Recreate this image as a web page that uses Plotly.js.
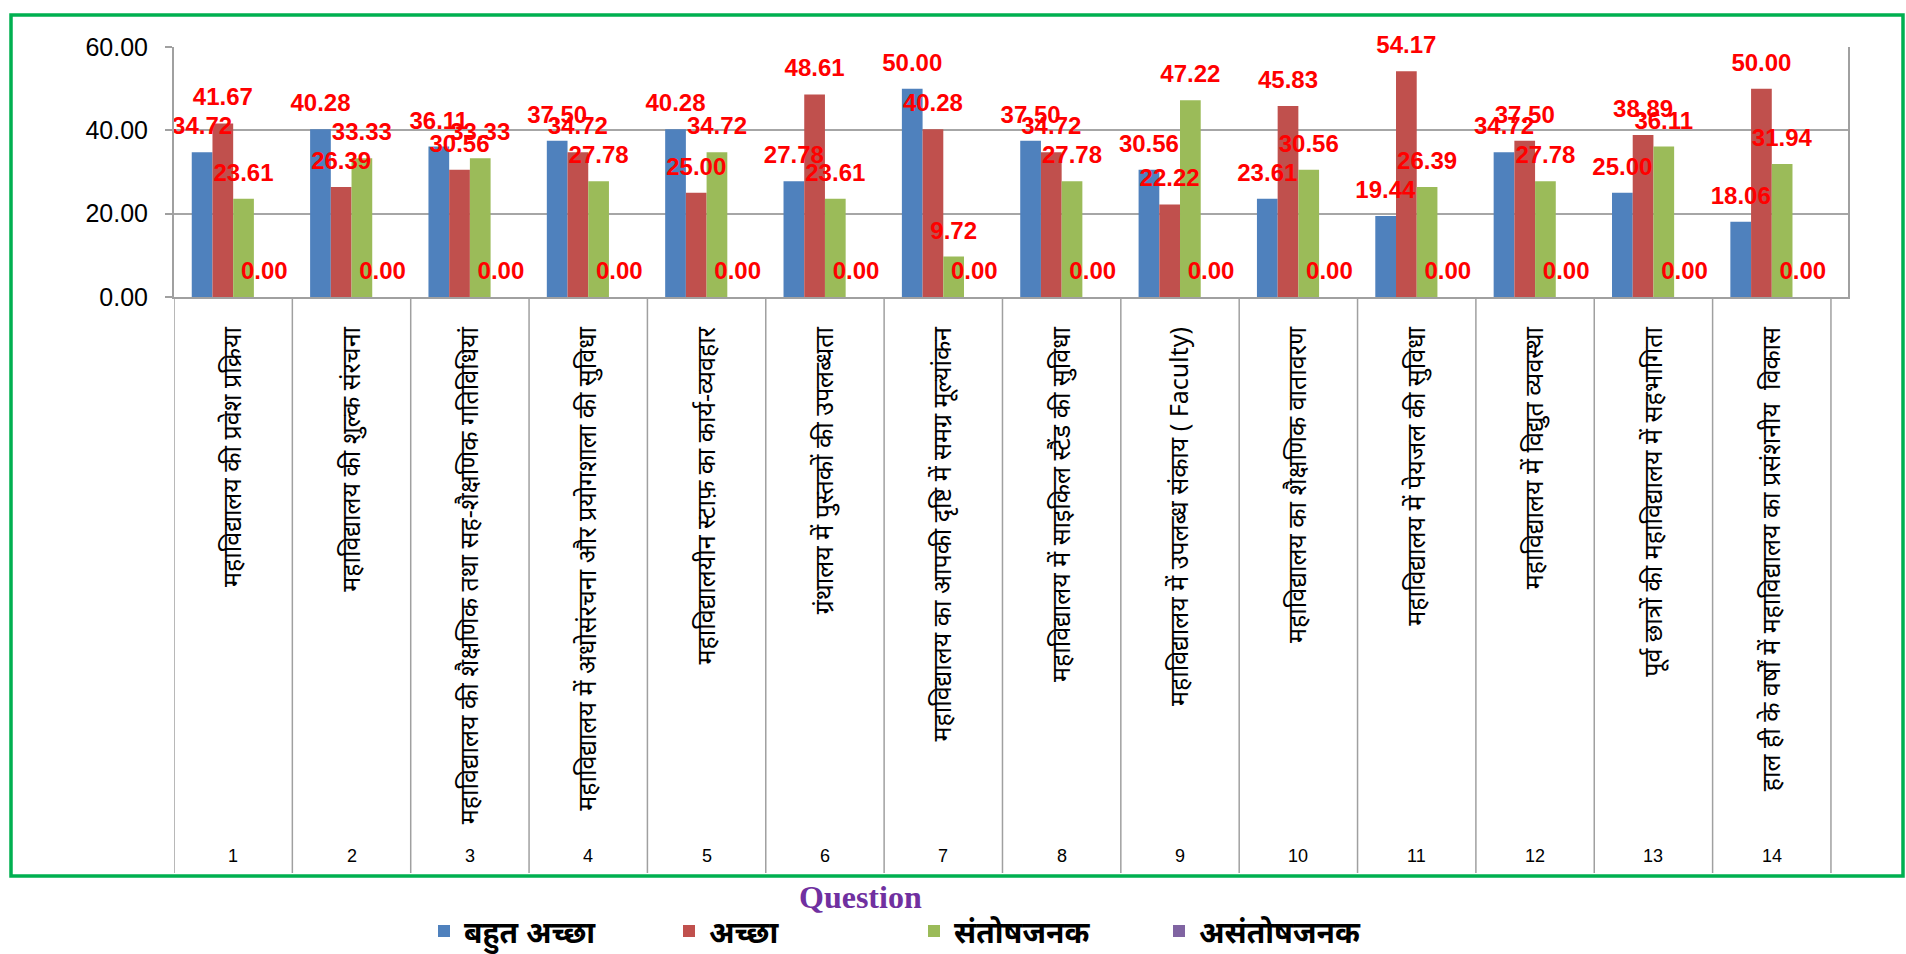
<!DOCTYPE html>
<html>
<head>
<meta charset="utf-8">
<script src="https://cdn.plot.ly/plotly-3.0.1.min.js"></script>
<style>html,body{margin:0;padding:0;background:#fff;}#chart{width:1906px;height:954px;}</style>
</head>
<body>
<div id="chart"></div>
<script>
const questionNumbers = ["1","2","3","4","5","6","7","8","9","10","11","12","13","14"];
const questionLabels = [
  "महाविद्यालय की प्रवेश प्रक्रिया",
  "महाविद्यालय की शुल्क संरचना",
  "महाविद्यालय की शैक्षणिक तथा सह-शैक्षणिक गतिविधियां",
  "महाविद्यालय में अधोसंरचना और प्रयोगशाला की सुविधा",
  "महाविद्यालयीन स्टाफ़ का कार्य-व्यवहार",
  "ग्रंथालय में पुस्तकों की उपलब्धता",
  "महाविद्यालय का आपकी दृष्टि में समग्र मूल्यांकन",
  "महाविद्यालय में साइकिल स्टैंड की सुविधा",
  "महाविद्यालय में उपलब्ध संकाय ( Faculty)",
  "महाविद्यालय का शैक्षणिक वातावरण",
  "महाविद्यालय में पेयजल की सुविधा",
  "महाविद्यालय में विद्युत व्यवस्था",
  "पूर्व छात्रों की महाविद्यालय में सहभागिता",
  "हाल ही के वर्षों में महाविद्यालय का प्रसंशनीय  विकास"
];
const seriesNames = ["बहुत अच्छा", "अच्छा", "संतोषजनक", "असंतोषजनक"];
const bahutAchha = [34.72, 40.28, 36.11, 37.50, 40.28, 27.78, 50.00, 37.50, 30.56, 23.61, 19.44, 34.72, 25.00, 18.06];
const achha      = [41.67, 26.39, 30.56, 34.72, 25.00, 48.61, 40.28, 34.72, 22.22, 45.83, 54.17, 37.50, 38.89, 50.00];
const santoshjanak = [23.61, 33.33, 33.33, 27.78, 34.72, 23.61, 9.72, 27.78, 47.22, 30.56, 26.39, 27.78, 36.11, 31.94];
const asantoshjanak = [0, 0, 0, 0, 0, 0, 0, 0, 0, 0, 0, 0, 0, 0];
const yTicks = [0, 20, 40, 60];

const colors = ["#4F81BD", "#C0504D", "#9BBB59", "#8064A2"];
const values = [bahutAchha, achha, santoshjanak, asantoshjanak];

// pixel geometry
const W = 1906, H = 954;
const mL = 174, mR = 58, mT = 47, mB = 657;
const pw = W - mL - mR, ph = H - mT - mB;
const px = x => (x - mL) / pw;
const py = y => (H - mB - y) / ph;

const labelFont = {family: "Liberation Sans Narrow, Liberation Sans, Arial", size: 24, color: "#FF0000", weight: "bold"};
const labelLift = 2.4; // data labels float a little above the 3D bar tops

const barTraces = values.map((v, i) => ({
  type: "bar",
  name: seriesNames[i],
  x: questionLabels,
  y: v,
  offsetgroup: "g" + i,
  marker: {color: colors[i], line: {width: 0}},
  hoverinfo: "x+y+name"
}));

// label layer drawn above all bars so no label is hidden by a neighbouring bar
const labelTraces = values.map((v, i) => ({
  type: "bar",
  name: seriesNames[i],
  x: questionLabels,
  y: v.map(d => d + labelLift),
  base: 0,
  offsetgroup: "g" + i,
  showlegend: false,
  marker: {color: "rgba(0,0,0,0)", line: {width: 0}},
  text: v.map(d => d.toFixed(2)),
  textposition: "outside",
  constraintext: "none",
  cliponaxis: false,
  textfont: labelFont,
  hoverinfo: "skip"
}));

const shapes = [];
for (let i = 0; i <= questionLabels.length; i++) {
  shapes.push({type: "line", xref: "x", yref: "paper", x0: i - 0.5, x1: i - 0.5,
    y0: 0, y1: py(873), line: {color: "#A0A0A0", width: 1.5}});
}
shapes.push({type: "rect", xref: "paper", yref: "paper",
  x0: px(11), x1: px(1903), y0: py(15), y1: py(876),
  line: {color: "#00B050", width: 3.5}, fillcolor: "rgba(0,0,0,0)"});

const annotations = questionNumbers.map((n, i) => ({
  x: questionLabels[i], xref: "x", y: py(856), yref: "paper",
  text: n, showarrow: false, xanchor: "center", yanchor: "middle",
  font: {family: "Liberation Sans Narrow, Liberation Sans, Arial", size: 18, color: "#000"}
}));
annotations.push({
  x: px(860), xref: "paper", y: py(897), yref: "paper",
  text: "<b>Question</b>", showarrow: false, xanchor: "center", yanchor: "middle",
  font: {family: "Liberation Serif, Times New Roman, serif", size: 32, color: "#7030A0"}
});

const layout = {
  width: W, height: H,
  margin: {l: mL, r: mR, t: mT, b: mB},
  paper_bgcolor: "#FFFFFF",
  plot_bgcolor: "#FFFFFF",
  barmode: "group",
  bargap: 0.3,
  bargroupgap: 0,
  showlegend: true,
  legend: {
    orientation: "h",
    xref: "container", yref: "container",
    x: 424 / W, xanchor: "left", y: 1 - 931 / H, yanchor: "middle",
    font: {family: "Noto Sans, Liberation Sans, sans-serif", size: 30, color: "#000", weight: "bold"},
    itemwidth: 30, traceorder: "normal",
    entrywidth: 200, entrywidthmode: "pixels",
    bgcolor: "rgba(0,0,0,0)"
  },
  xaxis: {
    type: "category",
    tickangle: -90,
    ticks: "outside", ticklen: 18, tickcolor: "rgba(0,0,0,0)",
    tickfont: {family: "Noto Sans, Liberation Sans, sans-serif", size: 25, color: "#000"},
    showline: true, linecolor: "#A0A0A0", linewidth: 2,
    showgrid: false, zeroline: false, automargin: false,
    range: [-0.5, questionLabels.length - 0.356]
  },
  yaxis: {
    range: [0, 60],
    tickvals: yTicks,
    tickformat: ".2f",
    ticks: "outside", ticklen: 7, tickcolor: "#A0A0A0", tickwidth: 2,
    ticklabelstandoff: 12,
    tickfont: {family: "Liberation Sans Narrow, Liberation Sans, Arial", size: 25, color: "#000"},
    showgrid: true, gridcolor: "#A6A6A6", gridwidth: 2,
    showline: true, mirror: true, linecolor: "#A0A0A0", linewidth: 2,
    zeroline: false, automargin: false
  },
  shapes: shapes,
  annotations: annotations
};

Plotly.newPlot("chart", barTraces.concat(labelTraces), layout, {displayModeBar: false, responsive: false});
</script>
</body>
</html>
